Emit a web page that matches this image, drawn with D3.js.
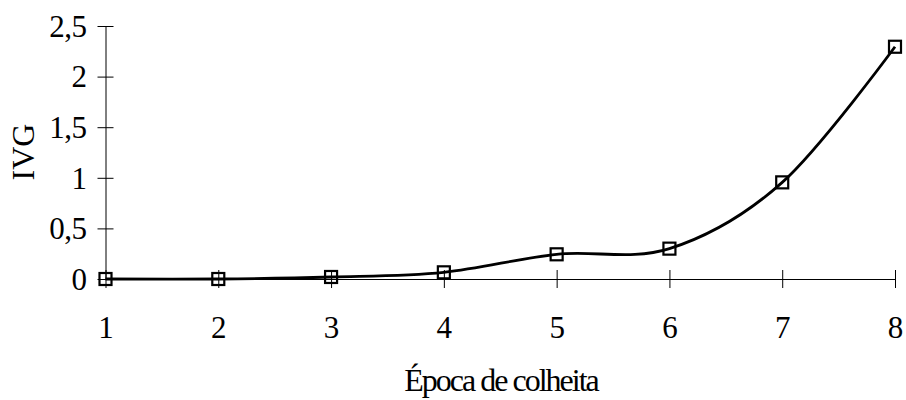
<!DOCTYPE html>
<html>
<head>
<meta charset="utf-8">
<script src="https://cdn.jsdelivr.net/npm/d3@7"></script>
<style>
  body { margin: 0; background: #fff; }
  text { font-family: "Liberation Serif", "Times New Roman", serif; fill: #000; }
</style>
</head>
<body>
<div id="chart"></div>
<script>
// data
const epocas = [1, 2, 3, 4, 5, 6, 7, 8];
const ivg = [0, 0, 0.02, 0.066, 0.244, 0.30, 0.955, 2.295];
const yTicks = [0, 0.5, 1, 1.5, 2, 2.5];

const width = 906, height = 400;
const fmt = d => String(d).replace('.', ',');

const svg = d3.select('#chart').append('svg')
  .attr('width', width)
  .attr('height', height);

const x = d3.scaleLinear().domain([1, 8]).range([105.5, 895]);
const y = d3.scaleLinear().domain([0, 2.5]).range([279, 26]);

// y axis, ticks cross the line
const yAxis = svg.append('g')
  .attr('transform', `translate(${x(1)},0)`)
  .call(d3.axisLeft(y).tickValues(yTicks).tickSize(0).tickFormat(''));
yAxis.select('.domain').attr('stroke', '#000').attr('stroke-width', 1);
yAxis.selectAll('.tick line').remove();
yAxis.selectAll('.tick').append('line')
  .attr('x1', -8).attr('x2', 8)
  .attr('stroke', '#000').attr('stroke-width', 1);
yAxis.selectAll('.tick text').remove();
yAxis.selectAll('.tick').append('text')
  .attr('x', -19)
  .attr('dy', '0.33em')
  .attr('text-anchor', 'end')
  .attr('font-size', 31)
  .attr('letter-spacing', -0.5)
  .text(d => fmt(d));

// x axis at y = 0
const xAxis = svg.append('g')
  .attr('transform', `translate(0,${y(0)})`)
  .call(d3.axisBottom(x).tickValues(epocas).tickSize(0).tickFormat(''));
xAxis.select('.domain').attr('stroke', '#000').attr('stroke-width', 1);
xAxis.selectAll('.tick line').remove();
xAxis.selectAll('.tick').append('line')
  .attr('y1', -9).attr('y2', 9)
  .attr('stroke', '#000').attr('stroke-width', 1);
xAxis.selectAll('.tick text').remove();
xAxis.selectAll('.tick').append('text')
  .attr('y', 59)
  .attr('text-anchor', 'middle')
  .attr('font-size', 31)
  .text(d => d);

// axis titles
svg.append('text')
  .attr('transform', `translate(34,152) rotate(-90)`)
  .attr('text-anchor', 'middle')
  .attr('font-size', 32)
  .text('IVG');

svg.append('text')
  .attr('x', 501)
  .attr('y', 391)
  .attr('text-anchor', 'middle')
  .attr('font-size', 32)
  .attr('letter-spacing', -2)
  .text('Época de colheita');

// smoothed line
const pts = epocas.map((e, i) => [e, ivg[i]]);
const line = d3.line()
  .x(d => x(d[0]))
  .y(d => y(d[1]))
  .curve(d3.curveCardinal.tension(0));

svg.append('path')
  .datum(pts)
  .attr('fill', 'none')
  .attr('stroke', '#000')
  .attr('stroke-width', 2.8)
  .attr('d', line);

// square markers
const s = 12;
svg.selectAll('.marker')
  .data(pts)
  .enter()
  .append('rect')
  .attr('class', 'marker')
  .attr('x', d => x(d[0]) - s / 2)
  .attr('y', d => y(d[1]) - s / 2)
  .attr('width', s)
  .attr('height', s)
  .attr('fill', 'none')
  .attr('stroke', '#000')
  .attr('stroke-width', 2.2);
</script>
</body>
</html>
